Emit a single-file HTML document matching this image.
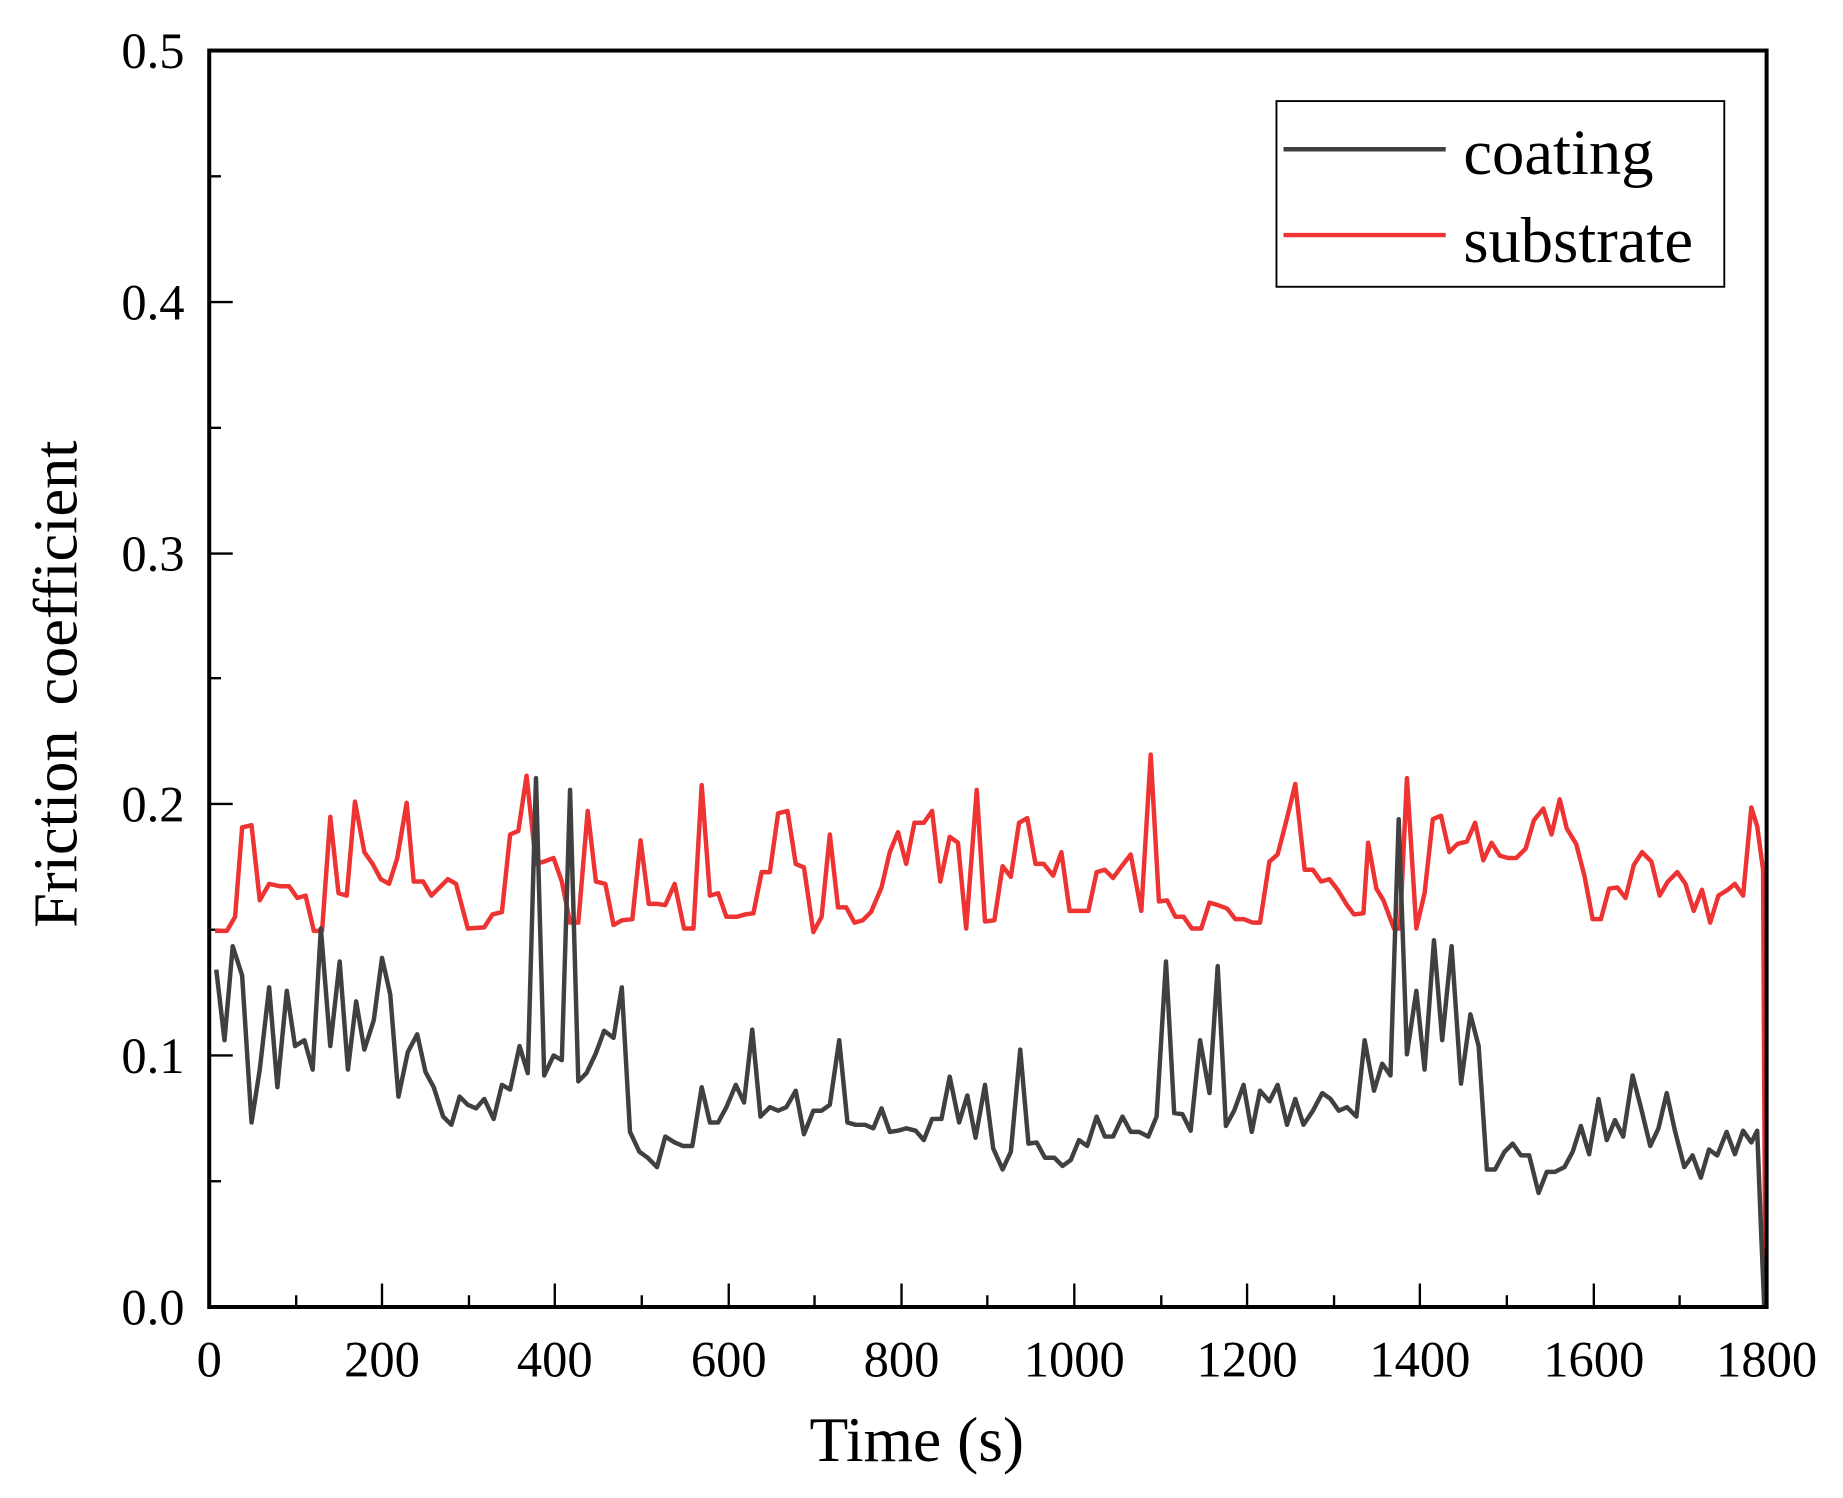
<!DOCTYPE html>
<html><head><meta charset="utf-8"><style>html,body{margin:0;padding:0;background:#fff}svg{display:block}</style></head>
<body>
<svg width="1843" height="1498" viewBox="0 0 1568 1274.5" preserveAspectRatio="none" xmlns="http://www.w3.org/2000/svg" font-family="Liberation Serif, serif">
<rect width="1568" height="1275" fill="#fff"/>
<g stroke="#000" stroke-width="2">
<line x1="252" y1="1112" x2="252" y2="1102"/><line x1="325" y1="1112" x2="325" y2="1092"/>
<line x1="399" y1="1112" x2="399" y2="1102"/><line x1="472" y1="1112" x2="472" y2="1092"/>
<line x1="546" y1="1112" x2="546" y2="1102"/><line x1="620" y1="1112" x2="620" y2="1092"/>
<line x1="693" y1="1112" x2="693" y2="1102"/><line x1="767" y1="1112" x2="767" y2="1092"/>
<line x1="840" y1="1112" x2="840" y2="1102"/><line x1="914" y1="1112" x2="914" y2="1092"/>
<line x1="988" y1="1112" x2="988" y2="1102"/><line x1="1061" y1="1112" x2="1061" y2="1092"/>
<line x1="1135" y1="1112" x2="1135" y2="1102"/><line x1="1208" y1="1112" x2="1208" y2="1092"/>
<line x1="1282" y1="1112" x2="1282" y2="1102"/><line x1="1356" y1="1112" x2="1356" y2="1092"/>
<line x1="1429" y1="1112" x2="1429" y2="1102"/>
<line x1="178" y1="1005" x2="188" y2="1005"/><line x1="178" y1="898" x2="198" y2="898"/>
<line x1="178" y1="791" x2="188" y2="791"/><line x1="178" y1="684" x2="198" y2="684"/>
<line x1="178" y1="577" x2="188" y2="577"/><line x1="178" y1="471" x2="198" y2="471"/>
<line x1="178" y1="364" x2="188" y2="364"/><line x1="178" y1="257" x2="198" y2="257"/>
<line x1="178" y1="150" x2="188" y2="150"/>
</g>
<polyline fill="none" stroke="#ee3333" stroke-width="3.8" stroke-linejoin="round" points="183,792 193,792 200,780 206,704 214,702 221,766 229,752 238,754 246,754 253,764 260,762 267,792 274,792 281,695 288,760 295,762 302,682 310,725 317,735 324,748 331,752 338,730 346,683 352,750 360,750 367,762 374,755 381,748 388,752 398,790 412,789 419,778 427,776 434,710 441,707 448,660 456,735 463,733 471,730 478,750 485,785 492,785 500,690 507,750 515,752 522,787 529,783 538,782 545,715 552,769 559,769 566,770 574,752 582,790 590,790 597,668 604,762 611,760 618,780 627,780 634,778 641,777 648,742 655,742 662,692 670,690 677,735 684,738 692,793 699,780 706,710 713,772 720,772 727,785 734,783 741,776 750,755 757,725 764,708 771,735 778,700 786,700 793,690 800,750 808,712 815,717 822,790 831,672 838,784 846,783 853,737 860,746 867,700 874,696 881,735 888,735 896,745 903,725 910,775 917,775 926,775 933,742 940,740 947,747 955,736 962,727 971,775 979,642 986,767 993,766 1000,780 1007,780 1014,790 1022,790 1029,768 1036,770 1044,773 1051,782 1058,782 1066,785 1072,785 1080,733 1087,727 1095,696 1102,667 1110,740 1117,740 1124,750 1131,748 1138,757 1146,770 1152,778 1160,777 1164,717 1171,756 1177,766 1186,790 1191,790 1197,662 1205,790 1212,760 1219,697 1226,694 1233,725 1240,718 1248,716 1255,700 1262,732 1269,717 1276,728 1283,730 1290,730 1298,722 1305,698 1313,688 1320,710 1327,680 1333,705 1341,718 1348,745 1355,782 1362,782 1369,756 1376,755 1383,764 1390,736 1397,725 1405,733 1412,762 1419,750 1427,742 1434,752 1441,775 1448,757 1455,785 1462,762 1470,757 1476,752 1483,762 1490,687 1495,703 1500,740 1502,1112"/>
<polyline fill="none" stroke="#404040" stroke-width="3.8" stroke-linejoin="round" points="184,825 191,885 198,805 206,830 214,955 221,910 229,840 236,925 244,843 251,890 259,885 266,910 273,790 281,890 289,818 296,910 303,852 310,893 318,868 325,815 332,846 339,933 347,895 355,880 362,912 369,925 377,950 384,957 391,933 398,940 405,943 412,935 420,952 427,923 434,927 442,890 449,913 456,662 463,915 471,898 478,902 485,672 492,920 499,913 507,896 514,877 522,883 529,840 536,963 544,980 551,985 559,993 566,967 574,972 581,975 589,975 597,925 604,955 611,955 618,942 626,923 633,938 640,876 647,950 655,942 662,945 669,942 677,928 684,965 692,945 699,945 706,940 714,885 721,955 728,957 736,957 743,960 750,943 757,963 764,962 771,960 779,962 786,970 793,952 801,952 808,916 816,955 823,932 830,968 838,923 845,977 853,995 860,980 868,893 875,973 882,972 889,985 897,985 904,992 911,987 918,970 925,975 933,950 940,967 947,967 955,950 962,963 969,963 977,967 984,950 992,818 999,947 1006,948 1013,962 1021,885 1029,930 1036,822 1043,958 1050,945 1058,923 1065,963 1072,928 1080,937 1087,923 1095,957 1102,935 1109,957 1117,945 1125,930 1132,935 1139,945 1146,942 1154,950 1161,885 1169,928 1176,905 1183,915 1190,697 1197,897 1205,843 1212,910 1220,800 1227,885 1235,805 1243,922 1251,863 1258,890 1265,995 1272,995 1280,980 1287,973 1294,983 1301,983 1309,1015 1316,997 1323,997 1331,993 1338,980 1345,958 1352,982 1360,935 1367,970 1374,953 1381,967 1389,915 1396,942 1404,975 1411,960 1418,930 1425,962 1433,993 1440,983 1447,1002 1454,978 1461,983 1469,963 1476,982 1483,962 1490,972 1495,962 1498,1040 1501,1112"/>
<rect x="178" y="43" width="1325" height="1069" fill="none" stroke="#000" stroke-width="3.4"/>
<rect x="1086" y="86" width="381" height="158" fill="#fff" stroke="#000" stroke-width="1.6"/>
<line x1="1092" y1="127" x2="1230" y2="127" stroke="#404040" stroke-width="3.8"/>
<line x1="1092" y1="200" x2="1230" y2="200" stroke="#ee3333" stroke-width="3.8"/>
<g font-size="55" fill="#000">
<text x="1245" y="148">coating</text>
<text x="1245" y="223">substrate</text>
</g>
<g font-size="43" fill="#000" text-anchor="end">
<text x="157" y="1127">0.0</text><text x="157" y="913">0.1</text><text x="157" y="699">0.2</text>
<text x="157" y="486">0.3</text><text x="157" y="272">0.4</text><text x="157" y="58">0.5</text>
</g>
<g font-size="43" fill="#000" text-anchor="middle">
<text x="178" y="1171">0</text><text x="325" y="1171">200</text><text x="472" y="1171">400</text>
<text x="620" y="1171">600</text><text x="767" y="1171">800</text><text x="914" y="1171">1000</text>
<text x="1061" y="1171">1200</text><text x="1208" y="1171">1400</text><text x="1356" y="1171">1600</text>
<text x="1503" y="1171">1800</text>
</g>
<text x="780" y="1243" font-size="54" text-anchor="middle">Time (s)</text>
<text transform="translate(65,582) rotate(-90)" font-size="53" text-anchor="middle" word-spacing="8">Friction coefficient</text>
</svg>
</body></html>
